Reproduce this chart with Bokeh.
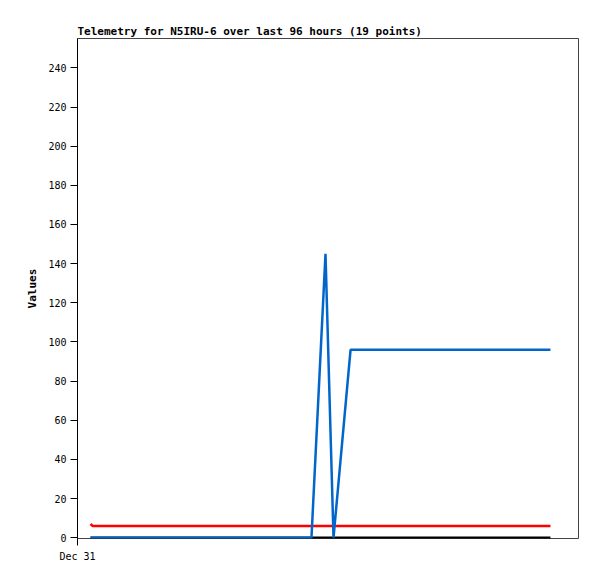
from bokeh.plotting import figure
from bokeh.models import Range1d, FixedTicker
from bokeh.embed import file_html
from bokeh.resources import INLINE

# hours since Dec 31 00:00
hours = [2.6, 3.0, 10, 18, 26, 34, 42, 46.7, 49.5, 51.1, 54.5, 60, 66, 72, 78, 84, 88, 91, 94.4]
blue_vals = [0, 0, 0, 0, 0, 0, 0, 0, 145, 0, 96, 96, 96, 96, 96, 96, 96, 96, 96]
red_vals = [7, 6, 6, 6, 6, 6, 6, 6, 6, 6, 6, 6, 6, 6, 6, 6, 6, 6, 6]
black_vals = [0] * 19
y_ticks = list(range(0, 241, 20))
x_tick_labels = {0: "Dec 31"}

p = figure(width=589, height=571, output_backend="svg", toolbar_location=None,
           x_range=Range1d(0, 100), y_range=Range1d(-0.4, 255),
           min_border_left=77, min_border_right=11, min_border_top=38, min_border_bottom=33,
           frame_width=501, frame_height=500,
           title="Telemetry for N5IRU-6 over last 96 hours (19 points)")
p.title.text_font = "DejaVu Sans Mono"
p.title.text_font_size = "11px"
p.title.text_font_style = "bold"
p.title.text_color = "black"
p.title.align = "left"
p.title.offset = 0
p.title.standoff = 2
p.grid.visible = False
p.outline_line_color = "#444444"
p.outline_line_width = 1
p.background_fill_color = "white"
p.border_fill_color = "white"

p.yaxis.ticker = FixedTicker(ticks=y_ticks)
p.yaxis.axis_label = "Values"
p.yaxis.axis_label_text_font = "DejaVu Sans Mono"
p.yaxis.axis_label_text_font_size = "11px"
p.yaxis.axis_label_text_font_style = "bold"
p.yaxis.axis_label_text_color = "black"
p.yaxis.axis_label_standoff = 6
p.yaxis.major_label_text_font = "DejaVu Sans Mono"
p.yaxis.major_label_text_font_size = "10px"
p.yaxis.major_label_text_color = "black"
p.yaxis.major_tick_out = 7
p.yaxis.major_tick_in = 0
p.yaxis.minor_tick_out = 0
p.yaxis.minor_tick_in = 0
p.yaxis.axis_line_color = "black"
p.yaxis.major_label_standoff = 4

p.xaxis.ticker = FixedTicker(ticks=list(x_tick_labels.keys()))
p.xaxis.major_label_overrides = x_tick_labels
p.xaxis.major_label_text_font = "DejaVu Sans Mono"
p.xaxis.major_label_text_font_size = "10px"
p.xaxis.major_label_text_color = "black"
p.xaxis.major_tick_out = 7
p.xaxis.major_tick_in = 0
p.xaxis.minor_tick_out = 0
p.xaxis.minor_tick_in = 0
p.xaxis.axis_line_color = None
p.xaxis.major_label_standoff = 5

p.line(hours, black_vals, line_color="black", line_width=2.5)
p.line(hours, red_vals, line_color="#ff0000", line_width=2.5)
p.line(hours, blue_vals, line_color="#0066cc", line_width=2.5)

open("out.html", "w").write(file_html(p, INLINE))
